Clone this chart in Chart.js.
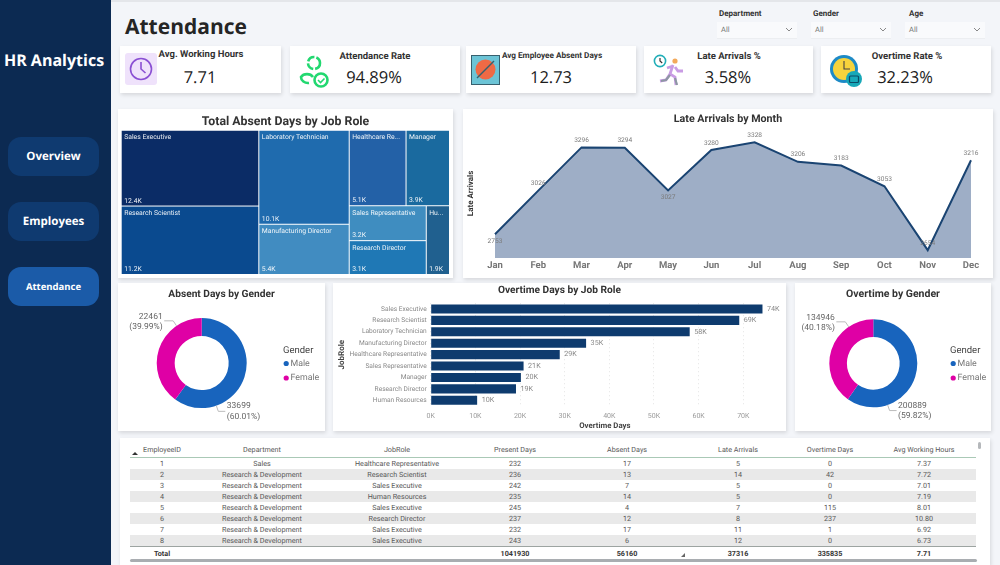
<!DOCTYPE html>
<html>
<head>
<meta charset="utf-8">
<title>Attendance</title>
<script src="https://cdn.jsdelivr.net/npm/chart.js@4"></script>
<style>
    html, body { margin: 0; padding: 0; }
    body { width: 1000px; height: 565px; overflow: hidden; background: #f3f5f9; font-family: "Open Sans", sans-serif; position: relative; text-rendering: geometricPrecision; }
    .abs { position: absolute; }
    #topline { left: 0; top: 0; width: 1000px; height: 2px; background: #e4e6ea; }
    #side { left: 0; top: 0; width: 111px; height: 565px; background: #0c2a52; }
    #brand { left: 0; top: 49px; width: 108px; text-align: center; color: #fff; font: 700 16px "Open Sans", sans-serif; }
    .nav { left: 8px; width: 91px; height: 39px; line-height: 39px; border-radius: 13px; background: #0f3a70; color: #fff; text-align: center; font-weight: 700; font-size: 11.5px; }
    .nav.on { background: #1b5ba8; font-size: 9.5px; }
    #pagetitle { left: 125px; top: 13px; font: 700 21px "Open Sans", sans-serif; color: #252525; }
    .card { background: #fff; box-shadow: 1px 2px 4px rgba(0,0,0,0.12); }
    .kpi-label { position: absolute; text-align: center; font: 700 9.5px Roboto, sans-serif; color: #333; white-space: nowrap; }
    .kpi-value { position: absolute; text-align: center; font: 400 16.5px "Open Sans", sans-serif; color: #1c1c1c; white-space: nowrap; }
    .slicer-label { position: absolute; font: 700 8px Roboto, sans-serif; color: #333; }
    .slicer-box { position: absolute; height: 16px; width: 80px; background: #f9fafc; border-bottom: 1px solid #eceef1; font: 400 7.5px Roboto, sans-serif; color: #777; line-height: 16px; }
    .slicer-box span { margin-left: 4px; }
    .slicer-box svg { position: absolute; right: 4px; top: 5px; }
    canvas { position: absolute; display: block; }
    #tbl { position: absolute; left: 130px; top: 442px; border-collapse: collapse; table-layout: fixed; width: 846px; font: 400 7.2px Roboto, sans-serif; color: #555; opacity: 0.99; }
    #tbl th { font-weight: 400; height: 15px; padding: 0; text-align: center; border-bottom: 1px solid #a9c9b6; }
    #tbl td { height: 11px; line-height: 11px; padding: 0; text-align: center; white-space: nowrap; }
    #tbl tr.alt td { background: #e9e9e9; }
    #tbl tr.total td { font-weight: 700; color: #333; border-top: 1px solid #9ca3a0; height: 12px; }
</style>
</head>
<body>
<div class="abs" id="topline"></div>
<div class="abs" id="side"></div>
<div class="abs" id="brand">HR Analytics</div>
<div class="abs nav" style="top:137px">Overview</div>
<div class="abs nav" style="top:202px">Employees</div>
<div class="abs nav on" style="top:267px">Attendance</div>
<div class="abs" id="pagetitle">Attendance</div>

<div class="abs" id="slicers"></div>
<div class="abs" id="kpis"></div>

<!-- icons -->
<svg class="abs" style="left:125px;top:53px" width="32" height="32" viewBox="0 0 32 32"><rect width="32" height="32" rx="3" fill="#efe2fb"/><circle cx="16" cy="16" r="10.5" fill="none" stroke="#8a4fd3" stroke-width="1.6"/><path d="M16 9v7l4.5 4" fill="none" stroke="#8a4fd3" stroke-width="1.6"/></svg>
<svg class="abs" style="left:299px;top:55px" width="32" height="34" viewBox="0 0 32 34"><circle cx="15" cy="8" r="6" fill="none" stroke="#22d870" stroke-width="2.6" stroke-dasharray="8 2"/><path d="M14 22a7 6 0 0 0-12 0a7 6 0 0 0 8 6" fill="none" stroke="#22d870" stroke-width="2.6"/><circle cx="22" cy="25" r="6.5" fill="none" stroke="#22d870" stroke-width="2.6"/><path d="M19 25l2.5 2.5 4-4" fill="none" stroke="#22d870" stroke-width="1.6"/></svg>
<svg class="abs" style="left:471px;top:55px" width="29" height="30" viewBox="0 0 29 30"><rect x="0.5" y="0.5" width="28" height="29" fill="#6cc4d6" stroke="#37606e"/><circle cx="14.5" cy="14.5" r="10" fill="#ef6a45"/><path d="M6 23L23 6" stroke="#37606e" stroke-width="1.4"/></svg>
<svg class="abs" style="left:652px;top:54px" width="34" height="34" viewBox="0 0 34 34"><circle cx="8" cy="7" r="5.6" fill="#fff" stroke="#21aeb8" stroke-width="1.6"/><path d="M8 4v3l2.2 2" fill="none" stroke="#333" stroke-width="1.2"/><circle cx="23" cy="7" r="2.6" fill="#f3a95a"/><path d="M21 11l-3 9 5 3 1 8M18 20l-4 6-6 1M21 12l-6 2M23 13l3 4 5 0" fill="none" stroke="#c99ce4" stroke-width="2.8"/><path d="M23 24l2 7M18 21l-4 5-5 1" fill="none" stroke="#8d97a3" stroke-width="2.2"/></svg>
<svg class="abs" style="left:829px;top:53px" width="34" height="36" viewBox="0 0 34 36"><circle cx="15" cy="16" r="14" fill="#1d8ac6"/><circle cx="15" cy="16" r="11" fill="#f6d33c"/><path d="M15 8v8h6" fill="none" stroke="#444" stroke-width="1.1"/><circle cx="25" cy="26" r="8" fill="#17a8b8"/><rect x="20.5" y="23" width="9" height="6.5" rx="1" fill="none" stroke="#0b4a66" stroke-width="1.2"/></svg>

<div class="abs card" style="left:118px;top:109px;width:335px;height:169px"></div>
<div class="abs card" style="left:463px;top:109px;width:530px;height:169px"></div>
<div class="abs card" style="left:118px;top:283px;width:207px;height:148px"></div>
<div class="abs card" style="left:333px;top:283px;width:453px;height:148px"></div>
<div class="abs card" style="left:795px;top:283px;width:196px;height:148px"></div>
<div class="abs card" style="left:120px;top:438px;width:870px;height:127px"></div>

<canvas id="treemap" width="335" height="169" style="left:118px;top:109px"></canvas>
<canvas id="lateLine" width="530" height="169" style="left:463px;top:109px"></canvas>
<canvas id="absentDonut" width="207" height="148" style="left:118px;top:283px"></canvas>
<canvas id="overtimeBar" width="453" height="148" style="left:333px;top:283px"></canvas>
<canvas id="overtimeDonut" width="196" height="148" style="left:795px;top:283px"></canvas>

<svg class="abs" style="left:131px;top:451px" width="8" height="5"><path d="M1 4h6L4 1z" fill="#333"/></svg>
<table id="tbl"></table>
<svg class="abs" style="left:681px;top:553px" width="5" height="5"><path d="M0 4h4V0z" fill="#666"/></svg>
<div class="abs" style="left:130px;top:559px;width:847px;height:3px;background:#a9adb1;border-radius:2px"></div>
<div class="abs" style="left:978px;top:442px;width:3px;height:7px;background:#b5b8bb;border-radius:2px"></div>

<script>
// ---- data ----
var kpiLabels = ['Avg. Working Hours', 'Attendance Rate', 'Avg Employee Absent Days', 'Late Arrivals %', 'Overtime Rate %'];
var kpiValues = ['7.71', '94.89%', '12.73', '3.58%', '32.23%'];

var slicerLabels = ['Department', 'Gender', 'Age'];
var slicerValues = ['All', 'All', 'All'];

var treemapRoles = ['Sales Executive', 'Research Scientist', 'Laboratory Technician', 'Manufacturing Director', 'Healthcare Representative', 'Manager', 'Sales Representative', 'Research Director', 'Human Resources'];
var treemapValues = [12400, 11200, 10100, 5400, 5100, 3900, 3200, 3100, 1900];

var months = ['Jan', 'Feb', 'Mar', 'Apr', 'May', 'Jun', 'Jul', 'Aug', 'Sep', 'Oct', 'Nov', 'Dec'];
var lateArrivals = [2753, 3026, 3296, 3294, 3027, 3280, 3328, 3206, 3183, 3053, 2654, 3216];

var genders = ['Male', 'Female'];
var absentByGender = [33699, 22461];
var overtimeByGender = [200889, 134946];

var barRoles = ['Sales Executive', 'Research Scientist', 'Laboratory Technician', 'Manufacturing Director', 'Healthcare Representative', 'Sales Representative', 'Manager', 'Research Director', 'Human Resources'];
var overtimeDays = [74300, 69100, 58000, 34800, 28900, 20800, 20200, 19100, 10400];
var overtimeTicks = [0, 10000, 20000, 30000, 40000, 50000, 60000, 70000];

var tableHeaders = ['EmployeeID', 'Department', 'JobRole', 'Present Days', 'Absent Days', 'Late Arrivals', 'Overtime Days', 'Avg Working Hours'];
var tableIds = [1, 2, 3, 4, 5, 6, 7, 8];
var tableDepartments = ['Sales', 'Research & Development', 'Research & Development', 'Research & Development', 'Research & Development', 'Research & Development', 'Research & Development', 'Research & Development'];
var tableRoles = ['Healthcare Representative', 'Research Scientist', 'Sales Executive', 'Human Resources', 'Sales Executive', 'Research Director', 'Sales Executive', 'Sales Executive'];
var tablePresent = [232, 236, 242, 235, 245, 237, 232, 243];
var tableAbsent = [17, 13, 7, 14, 4, 12, 17, 6];
var tableLate = [5, 14, 5, 5, 7, 8, 11, 12];
var tableOvertime = [0, 42, 0, 0, 115, 237, 1, 0];
var tableHours = ['7.37', '7.72', '7.01', '7.19', '8.01', '10.80', '6.92', '6.73'];
var tableTotals = ['Total', '', '', '1041930', '56160', '37316', '335835', '7.71'];

// ---- styling, kept apart from the values ----
var treemapColors = ['#0b2c66', '#0a4a8f', '#1f6bae', '#418cc1', '#2361a7', '#1a6a9f', '#3f8dc0', '#1f78b5', '#20608f'];
var treemapNesting = [[0, 1], [2, 3], [[4, 5], [[6, 7], 8]]];
var genderColors = ['#1864bd', '#df00a5'];
var kpiBoxes = [[120, 161, 201, 200], [290, 170, 375, 374], [466, 170, 552, 551], [644, 169, 729, 728], [821, 170, 907, 905]];
var kpiLabelTops = [49, 51, 51, 51, 51];
var kpiLabelSizes = [9.5, 9.5, 8.2, 9.5, 9.5];
var slicerX = [717, 811, 905];
var slicerLabelX = [719, 813, 909];
var tableWidths = [64, 136, 134, 102, 122, 100, 84, 104];

var titleFont = 'Roboto, sans-serif';
var bodyFont = 'Roboto, sans-serif';

Chart.defaults.animation = false;
Chart.defaults.responsive = false;
Chart.defaults.plugins.tooltip.enabled = false;

// keep chart titles centred on the whole card, whatever padding the plot needs
Chart.register({
    id: 'cardTitle',
    beforeDraw: function (chart) {
        chart.ctx.textRendering = 'geometricPrecision';
    },
    afterLayout: function (chart) {
        if (chart.titleBlock) {
            chart.titleBlock.left = 0;
            chart.titleBlock.right = chart.width;
        }
    }
});

// ---- kpi cards and slicers ----
var kpiHtml = '';
kpiLabels.forEach(function (label, i) {
    var b = kpiBoxes[i];
    kpiHtml += '<div class="abs card" style="left:' + b[0] + 'px;top:46px;width:' + b[1] + 'px;height:47px"></div>';
    kpiHtml += '<div class="kpi-label" style="left:' + (b[2] - 80) + 'px;width:160px;top:' + kpiLabelTops[i] + 'px;font-size:' + kpiLabelSizes[i] + 'px">' + label + '</div>';
    kpiHtml += '<div class="kpi-value" style="left:' + (b[3] - 80) + 'px;width:160px;top:65px">' + kpiValues[i] + '</div>';
});
document.getElementById('kpis').innerHTML = kpiHtml;

var slicerHtml = '';
slicerLabels.forEach(function (label, i) {
    slicerHtml += '<div class="slicer-label" style="left:' + slicerLabelX[i] + 'px;top:9px">' + label + '</div>';
    slicerHtml += '<div class="slicer-box" style="left:' + slicerX[i] + 'px;top:22px"><span>' + slicerValues[i] + '</span><svg width="8" height="5"><path d="M1 1l3 3 3-3" fill="none" stroke="#888"/></svg></div>';
});
document.getElementById('slicers').innerHTML = slicerHtml;

// ---- table ----
var tableHtml = '<colgroup>' + tableWidths.map(function (w) { return '<col style="width:' + w + 'px">'; }).join('') + '</colgroup>';
tableHtml += '<tr>' + tableHeaders.map(function (h) { return '<th>' + h + '</th>'; }).join('') + '</tr>';
tableIds.forEach(function (id, i) {
    var cells = [id, tableDepartments[i].replace('&', '&amp;'), tableRoles[i], tablePresent[i], tableAbsent[i], tableLate[i], tableOvertime[i], tableHours[i]];
    tableHtml += '<tr class="' + (i % 2 ? 'alt' : '') + '">' + cells.map(function (c) { return '<td>' + c + '</td>'; }).join('') + '</tr>';
});
tableHtml += '<tr class="total">' + tableTotals.map(function (c) { return '<td>' + c + '</td>'; }).join('') + '</tr>';
document.getElementById('tbl').innerHTML = tableHtml;

function chartTitle(text, size, top, bottom) {
    return {
        display: true,
        text: text,
        color: '#333',
        font: { family: titleFont, size: size, weight: '700' },
        padding: { top: top, bottom: bottom }
    };
}

// ---- treemap: the layout is split from the values through the chart's scales ----
function nodeTotal(node) {
    if (typeof node === 'number') return treemapValues[node];
    return node.reduce(function (sum, child) { return sum + nodeTotal(child); }, 0);
}

function layoutNode(node, x0, y0, x1, y1, depth, out) {
    if (typeof node === 'number') {
        out.push({ index: node, x0: x0, y0: y0, x1: x1, y1: y1 });
        return;
    }
    var total = nodeTotal(node);
    var used = 0;
    node.forEach(function (child) {
        var a = used / total;
        used += nodeTotal(child);
        var b = used / total;
        if (depth % 2 === 0) {
            layoutNode(child, x0 + (x1 - x0) * a, y0, x0 + (x1 - x0) * b, y1, depth + 1, out);
        } else {
            layoutNode(child, x0, y0 + (y1 - y0) * a, x1, y0 + (y1 - y0) * b, depth + 1, out);
        }
    });
}

function fitText(ctx, text, width) {
    if (ctx.measureText(text).width <= width) return text;
    var s = text;
    while (s.length > 1 && ctx.measureText(s + '...').width > width) s = s.slice(0, -1);
    return s + '...';
}

var treemapPlugin = {
    id: 'treemapPlugin',
    afterDatasetsDraw: function (chart) {
        var ctx = chart.ctx, sx = chart.scales.x, sy = chart.scales.y;
        var cells = [];
        layoutNode(treemapNesting, 0, 0, 1, 1, 0, cells);
        ctx.save();
        cells.forEach(function (c) {
            var left = sx.getPixelForValue(c.x0), right = sx.getPixelForValue(c.x1);
            var top = sy.getPixelForValue(c.y0), bottom = sy.getPixelForValue(c.y1);
            ctx.fillStyle = treemapColors[c.index];
            ctx.fillRect(left, top, right - left - 1, bottom - top - 1);
            ctx.fillStyle = 'rgba(255,255,255,0.92)';
            ctx.font = '400 6.8px ' + bodyFont;
            ctx.textBaseline = 'middle';
            ctx.fillText(fitText(ctx, treemapRoles[c.index], right - left - 6), left + 2.5, top + 6.7);
            ctx.fillText((treemapValues[c.index] / 1000).toFixed(1) + 'K', left + 2.5, bottom - 5.5);
        });
        ctx.restore();
    }
};

new Chart(document.getElementById('treemap'), {
    type: 'scatter',
    data: { datasets: [{ data: [] }] },
    options: {
        layout: { padding: { left: 3.7, right: 3, bottom: 3 } },
        scales: {
            x: { type: 'linear', display: false, min: 0, max: 1 },
            y: { type: 'linear', display: false, min: 0, max: 1, reverse: true }
        },
        plugins: { legend: { display: false }, title: chartTitle('Total Absent Days by Job Role', 12.3, 6, 1) }
    },
    plugins: [treemapPlugin]
});

// ---- late arrivals area ----
var lineBelow = ['Jan', 'May'];
var lineLabels = {
    id: 'lineLabels',
    afterDatasetsDraw: function (chart) {
        var ctx = chart.ctx;
        ctx.save();
        ctx.font = '400 6.6px ' + bodyFont;
        ctx.fillStyle = '#7c7c7c';
        ctx.textAlign = 'center';
        ctx.textBaseline = 'middle';
        chart.getDatasetMeta(0).data.forEach(function (pt, i) {
            var below = lineBelow.indexOf(months[i]) >= 0;
            ctx.fillText(lateArrivals[i], pt.x, pt.y + (below ? 7 : -7));
        });
        ctx.restore();
    }
};

new Chart(document.getElementById('lateLine'), {
    type: 'line',
    data: {
        labels: months,
        datasets: [{
            data: lateArrivals,
            borderColor: '#1a4472',
            borderWidth: 2,
            backgroundColor: '#9eaec6',
            fill: 'start',
            tension: 0,
            pointRadius: 0
        }]
    },
    options: {
        layout: { padding: { right: 22 } },
        scales: {
            x: {
                offset: false,
                grid: { display: false, drawTicks: false },
                border: { display: false },
                ticks: { color: '#777', maxRotation: 0, autoSkip: false, padding: 2, font: { family: titleFont, size: 9.5, weight: '700' } },
                afterFit: function (s) { s.height = 20; }
            },
            y: {
                min: 2605,
                max: 3412,
                grid: { display: false },
                border: { display: false },
                ticks: { display: false },
                title: { display: true, text: 'Late Arrivals', color: '#333', padding: { top: 3, bottom: 0 }, font: { family: titleFont, size: 8, weight: '700' } },
                afterFit: function (s) { s.width = 32; }
            }
        },
        plugins: { legend: { display: false }, title: chartTitle('Late Arrivals by Month', 10.7, 4, 3) }
    },
    plugins: [lineLabels]
});

// ---- donuts ----
function donutPlugin(values, angles, legendX, gapLeft) {
    var total = values.reduce(function (a, b) { return a + b; }, 0);
    return {
        id: 'donutLabels',
        afterDatasetsDraw: function (chart) {
            var ctx = chart.ctx;
            ctx.save();
            ctx.font = '400 8.5px ' + bodyFont;
            ctx.fillStyle = '#666';
            ctx.strokeStyle = '#bbb';
            ctx.lineWidth = 1;
            ctx.textBaseline = 'middle';
            chart.getDatasetMeta(0).data.forEach(function (arc, i) {
                var a = angles[i] * Math.PI / 180;
                var r = arc.outerRadius;
                var x1 = arc.x + Math.sin(a) * r, y1 = arc.y - Math.cos(a) * r;
                var x2 = arc.x + Math.sin(a) * (r + 6), y2 = arc.y - Math.cos(a) * (r + 6);
                var dir = Math.sin(a) >= 0 ? 1 : -1;
                var x3 = x2 + (dir > 0 ? 7 : -gapLeft);
                ctx.beginPath();
                ctx.moveTo(x1, y1);
                ctx.lineTo(x2, y2);
                ctx.lineTo(x3, y2);
                ctx.stroke();
                var pct = '(' + (values[i] / total * 100).toFixed(2) + '%)';
                ctx.textAlign = dir > 0 ? 'left' : 'right';
                var tx = x3 + dir * 1.5;
                var ty = dir > 0 ? y2 - 5 : y2 - 4;
                ctx.fillText(values[i], tx, ty);
                ctx.fillText(pct, tx, ty + 10.5);
            });
            // legend, placed like the report's: title over two dotted entries
            ctx.textAlign = 'left';
            ctx.font = '400 9.5px ' + bodyFont;
            ctx.fillStyle = '#444';
            ctx.fillText('Gender', legendX, 68);
            ctx.font = '400 8.8px ' + bodyFont;
            genders.forEach(function (g, i) {
                var y = 80.5 + i * 14.5;
                ctx.fillStyle = genderColors[i];
                ctx.beginPath();
                ctx.arc(legendX + 3.2, y, 2.6, 0, Math.PI * 2);
                ctx.fill();
                ctx.fillStyle = '#777';
                ctx.fillText(g, legendX + 7.5, y);
            });
            ctx.restore();
        }
    };
}

function makeDonut(id, title, titleSize, values, radius, angles, padRight, legendX, gapLeft) {
    new Chart(document.getElementById(id), {
        type: 'doughnut',
        data: {
            labels: genders,
            datasets: [{ data: values, backgroundColor: genderColors, borderWidth: 0, radius: radius, cutout: '60%' }]
        },
        options: {
            layout: { padding: { right: padRight, bottom: 7 } },
            plugins: {
                legend: { display: false },
                title: chartTitle(title, titleSize, 5, 2)
            }
        },
        plugins: [donutPlugin(values, angles, legendX, gapLeft)]
    });
}

makeDonut('absentDonut', 'Absent Days by Gender', 10.2, absentByGender, 45, [161, -34], 39.6, 165, 9);
makeDonut('overtimeDonut', 'Overtime by Gender', 10.5, overtimeByGender, 44, [161, -34], 39.4, 155, 9);

// ---- overtime bars ----
var barLabels = {
    id: 'barLabels',
    afterDatasetsDraw: function (chart) {
        var ctx = chart.ctx;
        ctx.save();
        ctx.font = '400 7.2px ' + bodyFont;
        ctx.fillStyle = '#888';
        ctx.textBaseline = 'middle';
        chart.getDatasetMeta(0).data.forEach(function (bar, i) {
            ctx.fillText(Math.round(overtimeDays[i] / 1000) + 'K', bar.x + 4.5, bar.y);
        });
        ctx.restore();
    }
};

new Chart(document.getElementById('overtimeBar'), {
    type: 'bar',
    data: {
        labels: barRoles,
        datasets: [{ data: overtimeDays, backgroundColor: '#0e3b6e', barPercentage: 0.8, categoryPercentage: 1 }]
    },
    options: {
        indexAxis: 'y',
        layout: { padding: { right: 7 } },
        scales: {
            x: {
                min: 0,
                max: 78000,
                grid: { color: '#e4e4e4', drawTicks: false, lineWidth: 1 },
                border: { display: false, dash: [1, 3] },
                afterBuildTicks: function (s) {
                    s.ticks = overtimeTicks.map(function (v) { return { value: v }; });
                },
                ticks: {
                    padding: 6,
                    color: '#999',
                    font: { family: bodyFont, size: 7 },
                    callback: function (v) { return (v / 1000) + 'K'; }
                },
                title: { display: true, text: 'Overtime Days', color: '#444', padding: 0, font: { family: titleFont, size: 7.8, weight: '700' } },
                afterFit: function (s) { s.height = 25; }
            },
            y: {
                grid: { display: false, drawTicks: false },
                border: { display: false },
                ticks: { color: '#888', padding: 4, autoSkip: false, font: { family: bodyFont, size: 6.6 } },
                title: { display: true, text: 'JobRole', color: '#444', padding: { top: 4, bottom: 0 }, font: { family: titleFont, size: 8, weight: '700' } },
                afterFit: function (s) { s.width = 97.7; }
            }
        },
        plugins: { legend: { display: false }, title: chartTitle('Overtime Days by Job Role', 10.2, 1, 7) }
    },
    plugins: [barLabels]
});
</script>
</body>
</html>
